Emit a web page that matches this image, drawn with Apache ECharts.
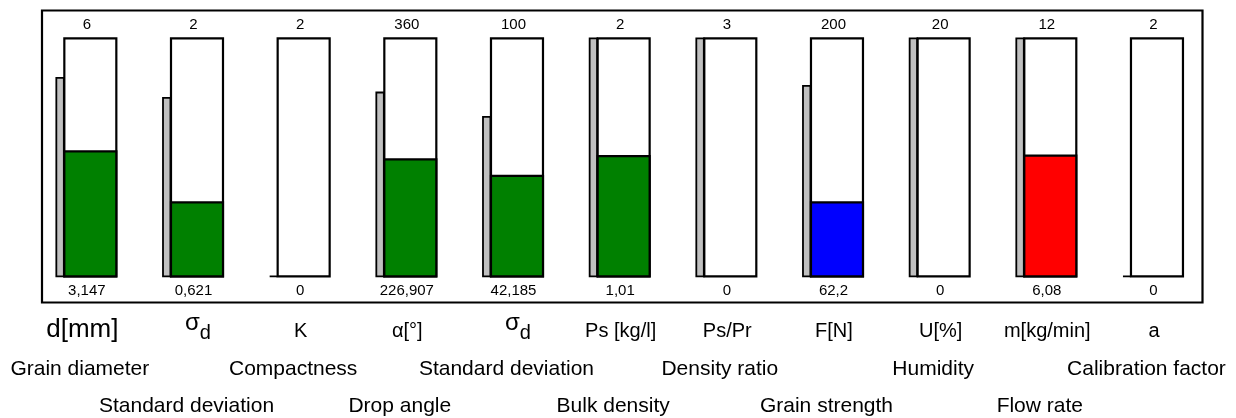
<!DOCTYPE html>
<html><head><meta charset="utf-8">
<script src="https://cdn.jsdelivr.net/npm/echarts@6/dist/echarts.min.js"></script>
<style>html,body{margin:0;padding:0;background:#fff}#chart{width:1236px;height:418px}</style>
</head><body><div id="chart"></div>
<script>
// ---- data ----
const symbols = ['d[mm]', 'σd', 'K', 'α[°]', 'σd', 'Ps [kg/l]', 'Ps/Pr', 'F[N]', 'U[%]', 'm[kg/min]', 'a'];
const descriptions = ['Grain diameter', 'Standard deviation', 'Compactness', 'Drop angle', 'Standard deviation',
  'Bulk density', 'Density ratio', 'Grain strength', 'Humidity', 'Flow rate', 'Calibration factor'];
const maxValues = [6, 2, 2, 360, 100, 2, 3, 200, 20, 12, 2];
const readings = [3.147, 0.621, 0, 226.907, 42.185, 1.01, 0, 62.2, 0, 6.08, 0];
const fillLevels = [3.147, 0.621, 0, 177, 42.185, 1.01, 0, 62.2, 0, 6.08, 0];
const markerLevels = [5, 1.5, 0, 278, 67, 2, 3, 160, 20, 12, 0];
const fillColors = ['#008000', '#008000', '#008000', '#008000', '#008000', '#008000', '#008000', '#0000ff', '#008000', '#ff0000', '#008000'];

const FONT = '"Liberation Sans", Arial, sans-serif';
const fmt = v => String(v).replace('.', ',');

const seriesData = symbols.map((s, i) => [i, fillLevels[i] / maxValues[i], markerLevels[i] / maxValues[i]]);

function symbolText(s) {
  if (s === 'σd') return { text: '{s|σ}{d|d}', rich: {
    s: { fontSize: 24, fontFamily: FONT, fill: '#000', padding: [0, 0, 8, 0], verticalAlign: 'bottom' },
    d: { fontSize: 20, fontFamily: FONT, fill: '#000', verticalAlign: 'bottom' } }, big: false, sigma: true };
  return { text: s, big: s === 'd[mm]' };
}

function renderItem(params, api) {
  const i = api.value(0);
  const base = api.coord([i, 0]);
  const top = api.coord([i, 1]);
  const fTop = api.coord([i, api.value(1)]);
  const gTop = api.coord([i, api.value(2)]);
  const w = 52;
  const left = base[0] - w / 2;
  const cx = base[0];
  const children = [];
  children.push({ type: 'rect', shape: { x: left - 8, y: gTop[1], width: 7.5, height: base[1] - gTop[1] },
    style: { fill: '#c0c0c0', stroke: '#000', lineWidth: 1.8 } });
  children.push({ type: 'rect', shape: { x: left, y: top[1], width: w, height: base[1] - top[1] },
    style: { fill: '#fff', stroke: '#000', lineWidth: 2.2 } });
  if (api.value(1) > 0) {
    children.push({ type: 'rect', shape: { x: left, y: fTop[1], width: w, height: base[1] - fTop[1] },
      style: { fill: fillColors[i], stroke: '#000', lineWidth: 2.2 } });
  }
  children.push({ type: 'text', x: cx - 3.5, y: top[1] - 13,
    style: { text: String(maxValues[i]), fontSize: 15, fontFamily: FONT, fill: '#000', align: 'center', verticalAlign: 'middle' } });
  children.push({ type: 'text', x: cx - 3.5, y: base[1] + 15,
    style: { text: fmt(readings[i]), fontSize: 15, fontFamily: FONT, fill: '#000', align: 'center', verticalAlign: 'middle' } });
  const st = symbolText(symbols[i]);
  if (st.sigma) {
    children.push({ type: 'text', x: cx + 1, y: base[1] + 51,
      style: { text: st.text, rich: st.rich, fontSize: 20, fontFamily: FONT, fill: '#000', align: 'center', verticalAlign: 'middle' } });
  } else {
    children.push({ type: 'text', x: cx - (st.big ? 8 : 3), y: base[1] + (st.big ? 53.5 : 55),
      style: { text: st.text, fontSize: st.big ? 26 : 20, fontFamily: FONT, fill: '#000', align: 'center', verticalAlign: 'middle' } });
  }
  children.push({ type: 'text', x: cx - 10.5, y: base[1] + (i % 2 === 0 ? 92.5 : 129.5),
    style: { text: descriptions[i], fontSize: 21, fontFamily: FONT, fill: '#000', align: 'center', verticalAlign: 'middle' } });
  return { type: 'group', children };
}

const chart = echarts.init(document.getElementById('chart'), null, { renderer: 'canvas' });
chart.setOption({
  animation: false,
  backgroundColor: '#fff',
  grid: { left: 37, right: 25.7, top: 38.3, bottom: 141.7 },
  xAxis: { type: 'category', data: symbols.map((s, i) => i), boundaryGap: true, show: false },
  yAxis: { type: 'value', min: 0, max: 1, show: false },
  graphic: [{ type: 'rect', shape: { x: 42, y: 10.5, width: 1160.5, height: 292 },
    style: { fill: 'none', stroke: '#000', lineWidth: 2.2 }, z: -1 }],
  series: [{ type: 'custom', renderItem, data: seriesData, clip: false }]
});
</script>
</body></html>
